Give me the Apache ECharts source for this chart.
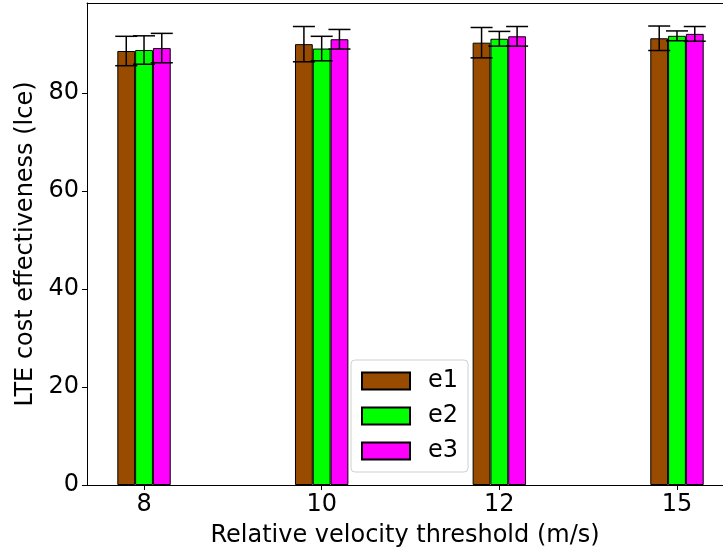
<!DOCTYPE html>
<html>
<head>
<meta charset="utf-8">
<script src="https://cdn.jsdelivr.net/npm/echarts@6/dist/echarts.min.js"></script>
<style>html,body{margin:0;padding:0;background:#fff}#c{width:723px;height:554px}</style>
</head>
<body>
<div id="c"></div>
<script>
const categories = ['8', '10', '12', '15'];
const seriesNames = ['e1', 'e2', 'e3'];
const e1 = [88.6, 90.0, 90.3, 91.2];
const e2 = [88.8, 89.1, 91.1, 91.7];
const e3 = [89.2, 91.0, 91.6, 92.1];
const e1Err = [3.0, 3.6, 3.1, 2.5];
const e2Err = [2.9, 2.5, 1.5, 1.0];
const e3Err = [3.0, 2.0, 2.0, 1.5];
const yTicks = [0, 20, 40, 60, 80];

const values = [e1, e2, e3];
const errs = [e1Err, e2Err, e3Err];
const colors = ['#994c00', '#00ff00', '#ff00ff'];
const FONT = 'DejaVu Sans';
const FS = 24;
const BW = 0.1; // bar width in axis units
const XMIN = -0.321, XMAX = 3.259;

const series = [];
values.forEach((vals, k) => {
  series.push({
    name: seriesNames[k],
    type: 'bar',
    barWidth: 17.8,
    barGap: '0%',
    data: vals.map((v, i) => [i, v]),
    itemStyle: { color: colors[k], borderColor: '#000', borderWidth: 1 },
    emphasis: { disabled: true },
    z: 2
  });
});
values.forEach((vals, k) => {
  series.push({
    type: 'custom',
    data: vals.map((v, i) => [i, v - errs[k][i], v + errs[k][i]]),
    z: 5,
    silent: true,
    renderItem: function (params, api) {
      const x = api.value(0) + (k - 1) * BW;
      const lo = api.coord([x, api.value(1)]);
      const hi = api.coord([x, api.value(2)]);
      const cap = 11;
      const st = { stroke: '#000', lineWidth: 1.5 };
      return {
        type: 'group',
        children: [
          { type: 'line', shape: { x1: lo[0], y1: lo[1], x2: hi[0], y2: hi[1] }, style: st },
          { type: 'line', shape: { x1: lo[0] - cap, y1: lo[1], x2: lo[0] + cap, y2: lo[1] }, style: st },
          { type: 'line', shape: { x1: hi[0] - cap, y1: hi[1], x2: hi[0] + cap, y2: hi[1] }, style: st }
        ]
      };
    }
  });
});

const chart = echarts.init(document.getElementById('c'), null, { renderer: 'canvas' });
chart.setOption({
  animation: false,
  backgroundColor: '#fff',
  textStyle: { fontFamily: FONT },
  grid: { left: 87, top: 3, right: 0, bottom: 69, show: false },
  legend: {
    data: seriesNames,
    orient: 'vertical',
    left: 351, top: 360,
    icon: 'rect',
    itemWidth: 48, itemHeight: 17, itemGap: 11,
    padding: [9, 10, 9, 10],
    backgroundColor: '#fff',
    borderColor: '#d0d0d0', borderWidth: 1, borderRadius: 4,
    textStyle: { fontFamily: FONT, fontSize: FS, color: '#000', lineHeight: 17, padding: [0, 0, 0, 13] },
    selectedMode: false
  },
  xAxis: [{
    type: 'value',
    min: XMIN, max: XMAX,
    name: 'Relative velocity threshold (m/s)',
    nameLocation: 'middle', nameGap: 39,
    nameTextStyle: { fontFamily: FONT, fontSize: FS, color: '#000' },
    axisLine: { onZero: false, lineStyle: { color: '#000', width: 1 } },
    axisTick: { show: true, length: 5, lineStyle: { color: '#000' }, customValues: [0, 1, 2, 3] },
    axisLabel: { fontFamily: FONT, fontSize: FS, color: '#000', margin: 8,
      customValues: [0, 1, 2, 3], formatter: v => categories[Math.round(v)] },
    splitLine: { show: false }
  }, {
    type: 'value', position: 'top',
    min: XMIN, max: XMAX,
    axisLine: { show: true, onZero: false, lineStyle: { color: '#000', width: 1 } },
    axisTick: { show: false }, axisLabel: { show: false }, splitLine: { show: false }
  }],
  yAxis: {
    type: 'value',
    min: 0, max: 98.4,
    name: 'LTE cost effectiveness (lce)',
    nameLocation: 'middle', nameGap: 48,
    nameTextStyle: { fontFamily: FONT, fontSize: FS, color: '#000' },
    axisLine: { show: true, onZero: false, lineStyle: { color: '#000', width: 1 } },
    axisTick: { show: true, length: 5, lineStyle: { color: '#000' }, customValues: yTicks },
    axisLabel: { fontFamily: FONT, fontSize: FS, color: '#000', margin: 8, customValues: yTicks },
    splitLine: { show: false }
  },
  series: series
});
</script>
</body>
</html>
